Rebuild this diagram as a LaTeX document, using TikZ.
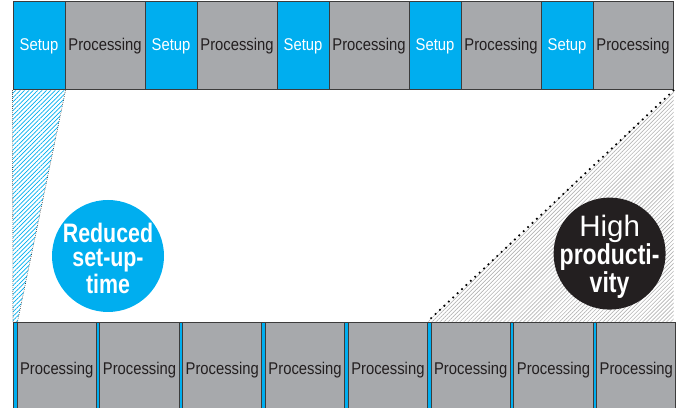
\documentclass[tikz,border=0pt]{standalone}
\usepackage{fontspec}
\setmainfont[FakeStretch=0.87]{Liberation Sans}
\newfontfamily\widefont{Liberation Sans}
\newfontfamily\bubblefont[FakeStretch=0.8]{Liberation Sans}
\usetikzlibrary{patterns.meta}
\definecolor{setupblue}{HTML}{00AEEF}
\definecolor{procgray}{HTML}{A7A9AC}
\definecolor{edgegray}{HTML}{3C3C3C}
\definecolor{inkblack}{HTML}{231F20}
\definecolor{hatchgray}{HTML}{B4B4B4}
\tikzset{
	setupbox/.style={shape=rectangle, draw=edgegray, line width=0.7pt, fill=setupblue, text=white, inner sep=0pt, minimum width=1.3cm, minimum height=2.2cm, font=\fontsize{12.1}{14}\selectfont},
	procbox/.style={setupbox, fill=procgray, text=inkblack, minimum width=2cm},
	stripbox/.style={shape=rectangle, draw=edgegray, line width=0.6pt, fill=setupblue, inner sep=0pt, minimum width=0.09cm, minimum height=2.4cm, anchor=north west},
	lowbox/.style={procbox, minimum width=1.98cm, minimum height=2.4cm, anchor=north west},
	bubble/.style={shape=circle, minimum size=2.8cm, inner sep=0pt},
	bubbletext/.style={align=center, text=white, inner sep=0pt}
}

\begin{document}
\begin{tikzpicture}
	\useasboundingbox (0, 0) rectangle (17.15, 10.2);
	% Top row, setup and processing:
	\node[setupbox] (s1) at (0.975, 9.05){Setup};
	\node[procbox] (p1) at (2.625, 9.05){Processing};
	\node[setupbox] (s2) at (4.275, 9.05){Setup};
	\node[procbox] (p2) at (5.925, 9.05){Processing};
	\node[setupbox] (s3) at (7.575, 9.05){Setup};
	\node[procbox] (p3) at (9.225, 9.05){Processing};
	\node[setupbox] (s4) at (10.875, 9.05){Setup};
	\node[procbox] (p4) at (12.525, 9.05){Processing};
	\node[setupbox] (s5) at (14.175, 9.05){Setup};
	\node[procbox] (p5) at (15.825, 9.05){Processing};
	% Bottom row, short setup strips:
	\node[stripbox] (b1) at (0.325, 2.15){};
	\node[lowbox] (q1) at (0.415, 2.15){Processing};
	\node[stripbox] (b2) at (2.395, 2.15){};
	\node[lowbox] (q2) at (2.485, 2.15){Processing};
	\node[stripbox] (b3) at (4.465, 2.15){};
	\node[lowbox] (q3) at (4.555, 2.15){Processing};
	\node[stripbox] (b4) at (6.535, 2.15){};
	\node[lowbox] (q4) at (6.625, 2.15){Processing};
	\node[stripbox] (b5) at (8.605, 2.15){};
	\node[lowbox] (q5) at (8.695, 2.15){Processing};
	\node[stripbox] (b6) at (10.675, 2.15){};
	\node[lowbox] (q6) at (10.765, 2.15){Processing};
	\node[stripbox] (b7) at (12.745, 2.15){};
	\node[lowbox] (q7) at (12.835, 2.15){Processing};
	\node[stripbox] (b8) at (14.815, 2.15){};
	\node[lowbox] (q8) at (14.905, 2.15){Processing};
	% Hatched wedges:
	\coordinate (c1) at (p5.south east |- b6.north west);
	\fill[pattern={Lines[angle=45, distance=2.2pt, line width=0.5pt]}, pattern color=setupblue] (s1.south west) -- (s1.south east) -- (b1.north east) -- (b1.north west) -- cycle;
	\draw[densely dotted, line width=0.4pt] (s1.south west) -- (b1.north west);
	\draw[densely dotted, line width=0.4pt] (s1.south east) -- (b1.north east);
	\fill[pattern={Lines[angle=45, distance=2pt, line width=0.45pt]}, pattern color=hatchgray] (p5.south east) -- (b6.north west) -- (c1) -- cycle;
	\draw[line width=1.7pt, line cap=round, dash pattern=on 0pt off 4.3pt] (p5.south east) -- (b6.north west);
	% Bubbles:
	\node[bubble, fill=setupblue] (reduced) at (2.7, 3.8){};
	\node[bubbletext, font=\bubblefont\fontsize{19}{17.6}\selectfont\bfseries] (reducedtext) at ([yshift=-0.05cm]reduced.center){Reduced\\set-up-\\time};
	\node[bubble, fill=inkblack] (high) at (15.24, 3.86){};
	\node[bubbletext, font=\bubblefont\fontsize{20.5}{18}\selectfont\bfseries] (hightext) at ([yshift=-0.08cm]high.center){{\widefont\mdseries\fontsize{21}{20}\selectfont High}\\producti-\\vity};
\end{tikzpicture}
\end{document}
